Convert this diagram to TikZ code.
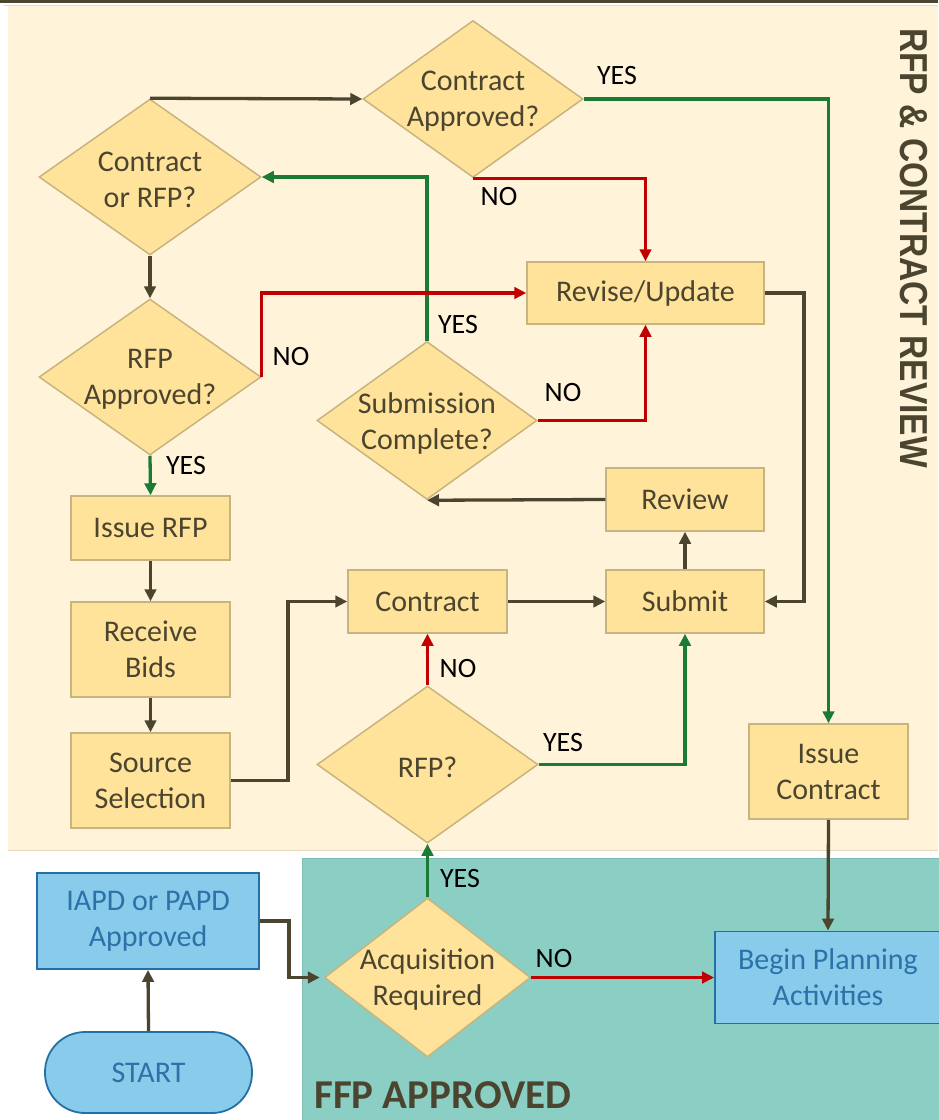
\documentclass[tikz,border=0pt]{standalone}
\usepackage{fontspec}
\setmainfont{Carlito}
\newfontfamily\headfont{Liberation Sans}
\usetikzlibrary{arrows.meta,shapes.geometric}

\definecolor{panel}{HTML}{FFF3D9}
\definecolor{panelline}{HTML}{E6D9BD}
\definecolor{ffpteal}{HTML}{8BCFC4}
\definecolor{ffpline}{HTML}{7DBDB2}
\definecolor{ink}{HTML}{4B4530}
\definecolor{gold}{HTML}{FFE39B}
\definecolor{goldline}{HTML}{C8B47E}
\definecolor{okgreen}{HTML}{1B7B35}
\definecolor{nored}{HTML}{C00000}
\definecolor{skyfill}{HTML}{89CBEB}
\definecolor{skyline}{HTML}{2370A6}
\definecolor{skytext}{HTML}{2B72A8}

\newcommand\boxfont{\fontsize{30}{36}\selectfont}

\tikzset{
  box/.style={rectangle, draw=goldline, fill=gold, line width=1.5pt, text=ink,
    font=\boxfont, align=center, inner sep=0pt},
  bluebox/.style={rectangle, draw=skyline, fill=skyfill, line width=1.8pt, text=skytext,
    font=\boxfont, align=center, inner sep=0pt},
  dia/.style={diamond, draw=goldline, fill=gold, line width=1.5pt, inner sep=0pt},
  dtext/.style={text=ink, font=\boxfont, align=center, inner sep=0pt, yshift=-2.5pt},
  flow/.style={line width=3.3pt, draw=ink, -{Triangle[length=12pt,width=11.5pt]}},
  yes/.style={flow, draw=okgreen},
  no/.style={flow, draw=nored},
  tag/.style={font=\fontsize{28}{34}\selectfont, text=black, inner sep=0pt},
}

\begin{document}
\begin{tikzpicture}[x=1pt, y=-1pt]
\useasboundingbox (0,0) rectangle (938,1120);

% page background and the two swim areas
\fill[white] (0,0) rectangle (938,1120);
\fill[ink] (0,0) rectangle (938,2.5);
\fill[panel] (8,5) rectangle (938,850);
\draw[panelline, line width=1pt] (4,5) -- (938,5);
\draw[panelline, line width=1pt] (8,850) -- (938,850);
\filldraw[fill=ffpteal, draw=ffpline, line width=1pt] (302,858) rectangle (940,1122);

\node[rotate=-90, text=ink, inner sep=0pt,
  font=\headfont\bfseries\fontsize{39}{39}\selectfont] (title) at (914,248)
  {\scalebox{0.86}[1]{RFP \& CONTRACT REVIEW}};
\node[anchor=base west, text=ink, inner sep=0pt,
  font=\bfseries\fontsize{41}{41}\selectfont] (ffp) at (314,1108) {FFP APPROVED};

% decisions
\node[dia, minimum width=220pt, minimum height=157pt,
  label={[dtext]center:{Contract\\Approved?}}] (ca) at (473,99) {};
\node[dia, minimum width=222pt, minimum height=156pt,
  label={[dtext]center:{Contract\\or RFP?}}] (cr) at (150,177) {};
\node[dia, minimum width=222pt, minimum height=156pt,
  label={[dtext]center:{RFP\\Approved?}}] (ra) at (150,377) {};
\node[dia, minimum width=220pt, minimum height=158pt,
  label={[dtext]center:{Submission\\Complete?}}] (sc) at (427,420.5) {};
\node[dia, minimum width=221pt, minimum height=157pt,
  label={[dtext]center:{RFP?}}] (rq) at (427.5,764.5) {};
\node[dia, minimum width=206pt, minimum height=159pt,
  label={[dtext]center:{Acquisition\\Required}}] (aq) at (427.5,977.5) {};

% process steps
\node[box, minimum width=237pt, minimum height=62pt] (rv) at (645.5,293) {Revise/Update};
\node[box, minimum width=158pt, minimum height=63pt] (rw) at (685,499.5) {Review};
\node[box, minimum width=158pt, minimum height=63pt] (sb) at (685,601.5) {Submit};
\node[box, minimum width=159pt, minimum height=63pt] (ct) at (427.5,601.5) {Contract};
\node[box, minimum width=159pt, minimum height=64pt] (ir) at (150.5,528) {Issue RFP};
\node[box, minimum width=159pt, minimum height=95pt] (rb) at (150.5,649.5) {Receive\\Bids};
\node[box, minimum width=159pt, minimum height=95pt] (ss) at (150.5,780.5) {Source\\Selection};
\node[box, minimum width=159pt, minimum height=95pt] (ic) at (828.5,771.5) {Issue\\Contract};

\node[bluebox, minimum width=222pt, minimum height=96pt] (ia) at (148,921) {IAPD or PAPD\\Approved};
\node[bluebox, minimum width=226pt, minimum height=92pt] (bp) at (828,977.5) {Begin Planning\\Activities};
\node[bluebox, rounded corners=40pt, minimum width=207pt, minimum height=81pt] (st) at (148.5,1072.5) {START};

% neutral flow
\draw[flow] (cr.north) -- (ca.west);
\draw[flow] (cr.south) -- (ra.north);
\draw[flow] (ir.south) -- (rb.north);
\draw[flow] (rb.south) -- (ss.north);
\draw[flow] (ss.east) -- (288,780.5) |- (ct.west);
\draw[flow] (ct.east) -- (sb.west);
\draw[flow] (sb.north) -- (rw.south);
\draw[flow] (rw.west) -- (sc.south);
\draw[flow] (rv.east) -- (804,293) |- (sb.east);
\draw[flow] (st.north) -- (ia.south);
\draw[flow, shorten >=4pt] (ia.east) -- (289,921) |- (aq.west);
\draw[flow] (ic.south) -- (bp.north);

% YES branches
\draw[yes] (ca.east) -| (ic.north);
\draw[yes] (ra.south) -- (ir.north);
\draw[yes] (sc.north) |- (cr.east);
\draw[yes] (rq.east) -| (sb.south);
\draw[yes] (aq.north) -- (rq.south);

% NO branches
\draw[no] (ca.south) -| (rv.north);
\draw[no] (ra.east) |- (rv.west);
\draw[no] (sc.east) -| (rv.south);
\draw[no] (rq.north) -- (ct.south);
\draw[no] (aq.east) -- (bp.west);

% branch labels
\node[tag] (t1) at (617,76) {YES};
\node[tag] (t2) at (499,197) {NO};
\node[tag] (t3) at (291,357) {NO};
\node[tag] (t4) at (186,466) {YES};
\node[tag] (t5) at (458,325) {YES};
\node[tag] (t6) at (563,393) {NO};
\node[tag] (t7) at (458,669) {NO};
\node[tag] (t8) at (563,743) {YES};
\node[tag] (t9) at (460,878) {YES};
\node[tag] (t10) at (554,958) {NO};
\end{tikzpicture}
\end{document}
